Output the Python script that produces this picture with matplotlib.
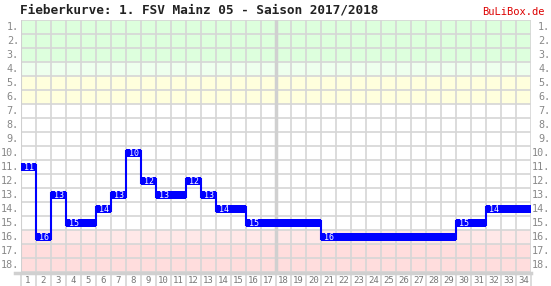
import matplotlib
matplotlib.use("Agg")
import matplotlib.pyplot as plt
from matplotlib.patches import Rectangle
from matplotlib.lines import Line2D

title = "Fieberkurve: 1. FSV Mainz 05 - Saison 2017/2018"
brand = "BuLiBox.de"
matchdays = list(range(1, 35))
positions = [11, 16, 13, 15, 15, 14, 13, 10, 12, 13, 13, 12, 13, 14, 14, 15, 15,
             15, 15, 15, 16, 16, 16, 16, 16, 16, 16, 16, 16, 15, 15, 14, 14, 14]
n_teams = 18
# background bands: (first row, last row, colour)
bands = [(1, 3, "#ddffdd"), (4, 4, "#eeffee"), (5, 6, "#ffffdd"),
         (16, 16, "#ffe8e8"), (17, 18, "#ffdddd")]

W, H = 551, 286
fig = plt.figure(figsize=(W / 100, H / 100), dpi=100)
ax = fig.add_axes([20.5 / W, 14 / H, (531 - 20.5) / W, (272 - 20) / H])
ax.set_xlim(0.5, len(matchdays) + 0.5)
ax.set_ylim(n_teams + 0.5, 0.5)

for r0, r1, c in bands:
    ax.add_patch(Rectangle((0.5, r0 - 0.5), len(matchdays), r1 - r0 + 1,
                           facecolor=c, edgecolor="none", zorder=0))

grid_c = "#d6d6d6"
for x in range(len(matchdays) + 1):
    ax.axvline(x + 0.5, color=grid_c, lw=1.2, zorder=1)
for y in range(n_teams + 1):
    ax.axhline(y + 0.5, color=grid_c, lw=1.2, zorder=1)
ax.axvline(17.5, color="#d0d0d0", lw=2.5, zorder=1)
ax.axvline(0.5, color="#d0d0d0", lw=1.5, zorder=1)
# heavier bottom line, reaching slightly left of the plot area
fig.add_artist(Line2D([15 / W, 531 / W], [(H - 272.5) / H, (H - 272.5) / H],
                      color="#d0d0d0", lw=2.5, zorder=1))

blue = "#0000ff"
ax.bar(matchdays, 0.56, bottom=[p - 0.26 for p in positions], width=1.0,
       color=blue, edgecolor="none", zorder=3)
for i in range(len(matchdays) - 1):
    if positions[i] != positions[i + 1]:
        ax.vlines(matchdays[i] + 0.5, min(positions[i], positions[i + 1]) - 0.2,
                  max(positions[i], positions[i + 1]) + 0.2, color=blue, lw=1.5, zorder=3)
prev = None
for md, p in zip(matchdays, positions):
    if p != prev:
        ax.text(md - 0.27, p + 0.03, str(p), color="white", fontsize=6,
                family="DejaVu Sans Mono", ha="left", va="center", zorder=4)
    prev = p

for s in ax.spines.values():
    s.set_visible(False)
ax.set_xticks(matchdays)
ax.set_xticklabels([str(m) for m in matchdays], fontsize=6.5, family="DejaVu Sans Mono",
                   color="#777777")
ax.tick_params(axis="x", length=0, pad=3)
ax.set_xticks([m + 0.5 for m in range(len(matchdays) + 1)], minor=True)
ax.tick_params(axis="x", which="minor", length=13, color=grid_c, width=1.2)
ax.set_yticks([])

for r in range(1, n_teams + 1):
    yc = (H - (20 + (r - 0.5) * 14)) / H
    fig.text(19 / W, yc, f"{r}.", ha="right", va="center",
             fontsize=7.3, family="DejaVu Sans Mono", color="#888888")
    fig.text(550.5 / W, yc, f"{r}.", ha="right", va="center",
             fontsize=7.3, family="DejaVu Sans Mono", color="#888888")

fig.text(20 / W, (H - 10) / H, title, ha="left", va="center", fontsize=9.2,
         family="DejaVu Sans Mono", fontweight="bold", color="#222222")
fig.text(545 / W, (H - 12) / H, brand, ha="right", va="center", fontsize=7.5,
         family="DejaVu Sans Mono", color="#dd0000")

fig.savefig("out.png", dpi=100)
